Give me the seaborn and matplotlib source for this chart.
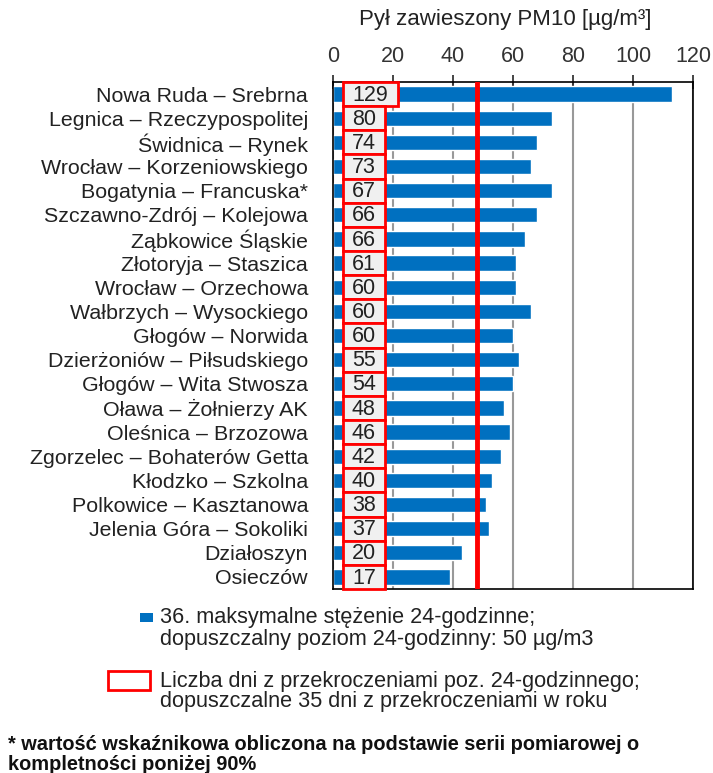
import matplotlib
matplotlib.use("Agg")
import matplotlib.pyplot as plt
import matplotlib.patches as mpatches
import seaborn as sns
import pandas as pd

stations = [
    "Nowa Ruda – Srebrna", "Legnica – Rzeczypospolitej", "Świdnica – Rynek",
    "Wrocław – Korzeniowskiego", "Bogatynia – Francuska*", "Szczawno-Zdrój – Kolejowa",
    "Ząbkowice Śląskie", "Złotoryja – Staszica", "Wrocław – Orzechowa",
    "Wałbrzych – Wysockiego", "Głogów – Norwida", "Dzierżoniów – Piłsudskiego",
    "Głogów – Wita Stwosza", "Oława – Żołnierzy AK", "Oleśnica – Brzozowa",
    "Zgorzelec – Bohaterów Getta", "Kłodzko – Szkolna", "Polkowice – Kasztanowa",
    "Jelenia Góra – Sokoliki", "Działoszyn", "Osieczów",
]
max36 = [113, 73, 68, 66, 73, 68, 64, 61, 61, 66, 60, 62, 60, 57, 59, 56, 53, 51, 52, 43, 39]
days_over = [129, 80, 74, 73, 67, 66, 66, 61, 60, 60, 60, 55, 54, 48, 46, 42, 40, 38, 37, 20, 17]
limit_line = 48
x_ticks = [0, 20, 40, 60, 80, 100, 120]

df = pd.DataFrame({"station": stations, "value": max36})

sns.set_style("white")
plt.rcParams["font.family"] = ["Liberation Sans", "DejaVu Sans"]

fig = plt.figure(figsize=(7.13, 7.73), dpi=100)
ax = fig.add_axes([333 / 713, 1 - 589 / 773, 360 / 713, 507 / 773])

sns.barplot(data=df, x="value", y="station", order=stations, color="#0070c0",
            saturation=1, width=0.63, ax=ax, zorder=2)

ax.set_xlim(0, 120)
ax.set_ylim(20.5, -0.5)
ax.set_xlabel("")
ax.set_ylabel("")
ax.set_xticks(x_ticks)
ax.xaxis.tick_top()
ax.tick_params(axis="x", direction="inout", length=10, width=1.2, labelsize=15.5,
               labelcolor="#333333", pad=6)
ax.tick_params(axis="y", which="major", length=0, labelsize=15.4, labelcolor="#222222", pad=18)
ax.set_yticks([i - 0.5 for i in range(22)], minor=True)
ax.tick_params(axis="y", which="minor", direction="out", length=6, width=1.2)
ax.grid(axis="x", color="#999999", linewidth=1.5, zorder=0)
ax.set_axisbelow(True)
for s in ax.spines.values():
    s.set_color("black")
    s.set_linewidth(1.2)

ax.axvline(limit_line, color="#ff0000", linewidth=3.5, zorder=4)

# boxes with number of days
for i, d in enumerate(days_over):
    w = 18.4 if i == 0 else 14.0
    ax.add_patch(mpatches.Rectangle((3.3, i - 0.5), w, 1.0, facecolor="#f0f0f0",
                                    edgecolor="#ff0000", linewidth=2, zorder=5, clip_on=False))
    ax.text(3.3 + w / 2, i + 0.05, str(d), ha="center", va="center", fontsize=15.5,
            color="#222222", zorder=6)

fig.text(505 / 713, 1 - 20 / 773, "Pył zawieszony PM10 [µg/m³]", ha="center", va="center",
         fontsize=16, color="#222222")

# legend
fig.patches.append(mpatches.Rectangle((140 / 713, 1 - 622 / 773), 13 / 713, 9 / 773,
                                      facecolor="#0070c0", edgecolor="none",
                                      transform=fig.transFigure))
fig.text(160 / 713, 1 - 618 / 773, "36. maksymalne stężenie 24-godzinne;", va="center",
         fontsize=15.6, color="#222222")
fig.text(160 / 713, 1 - 640 / 773, "dopuszczalny poziom 24-godzinny: 50 µg/m3", va="center",
         fontsize=15.6, color="#222222")
fig.patches.append(mpatches.Rectangle((108 / 713, 1 - 690 / 773), 42 / 713, 19 / 773,
                                      facecolor="white", edgecolor="#ff0000", linewidth=2,
                                      transform=fig.transFigure))
fig.text(160 / 713, 1 - 681 / 773, "Liczba dni z przekroczeniami poz. 24-godzinnego;",
         va="center", fontsize=15.6, color="#222222")
fig.text(160 / 713, 1 - 701 / 773, "dopuszczalne 35 dni z przekroczeniami w roku",
         va="center", fontsize=15.6, color="#222222")

fig.text(8 / 713, 1 - 745 / 773,
         "* wartość wskaźnikowa obliczona na podstawie serii pomiarowej o",
         va="center", fontsize=14.4, fontweight="bold", color="#111111")
fig.text(8 / 713, 1 - 765 / 773, "kompletności poniżej 90%",
         va="center", fontsize=14.4, fontweight="bold", color="#111111")

fig.savefig("out.png", dpi=100)
